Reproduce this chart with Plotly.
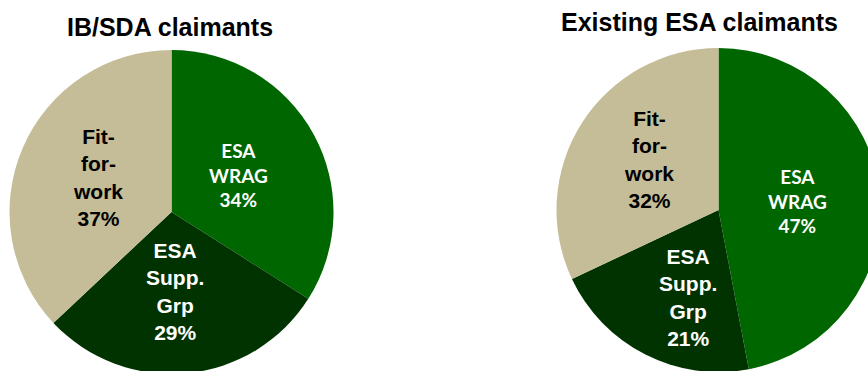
import math
import plotly.graph_objects as go

# ---- data ----
categories = ["ESA<br>WRAG", "ESA<br>Supp.<br>Grp", "Fit-<br>for-<br>work"]
ib_sda_values = [34, 29, 37]
existing_esa_values = [47, 21, 32]
chart_titles = ["IB/SDA claimants", "Existing ESA claimants"]

# ---- styles ----
slice_colors = ["#006600", "#003300", "#C4BD97"]
text_colors = ["white", "white", "black"]
text_families = ["Lato", "Liberation Sans", "Liberation Sans"]
text_sizes = [19, 21, 21]

W, H = 884, 380
# pie geometry in pixels: centre x, centre y, radius
pie_geom = [(171.5, 212, 162), (718.5, 210, 162)]
# label placement: fraction of radius and angle tweak (degrees) per slice
label_r = [[0.47, 0.49, 0.50], [0.49, 0.57, 0.53]]
label_da = [[0, 3, 2], [-1, -8, 4]]
title_pos = [(170, 27), (699, 22)]


def pie(vals, geom):
    cx, cy, r = geom
    return go.Pie(
        labels=[c.replace("<br>", " ") for c in categories],
        values=vals,
        textinfo="none",
        marker=dict(colors=slice_colors, line=dict(width=0)),
        sort=False,
        direction="clockwise",
        rotation=0,
        showlegend=False,
        hoverinfo="label+value",
        domain=dict(x=[(cx - r) / W, (cx + r) / W], y=[1 - (cy + r) / H, 1 - (cy - r) / H]),
    )


fig = go.Figure()
for k, vals in enumerate([ib_sda_values, existing_esa_values]):
    geom = pie_geom[k]
    fig.add_trace(pie(vals, geom))
    cx, cy, r = geom
    total = sum(vals)
    cum = 0
    for i, v in enumerate(vals):
        mid = (cum + v / 2) / total * 360 + label_da[k][i]
        cum += v
        a = math.radians(mid)
        px = cx + label_r[k][i] * r * math.sin(a)
        py = cy - label_r[k][i] * r * math.cos(a)
        fig.add_annotation(
            text=f"<b>{categories[i]}<br>{v}%</b>",
            x=px / W, y=1 - py / H, xref="paper", yref="paper",
            xanchor="center", yanchor="middle", showarrow=False, align="center",
            font=dict(family=text_families[i], size=text_sizes[i], color=text_colors[i]),
        )

for t, (x, y) in zip(chart_titles, title_pos):
    fig.add_annotation(
        text=f"<b>{t}</b>", x=x / W, y=1 - y / H, xref="paper", yref="paper",
        xanchor="center", yanchor="middle", showarrow=False,
        font=dict(family="Liberation Sans", size=25, color="black"),
    )

fig.update_layout(
    width=W, height=H,
    margin=dict(l=0, r=0, t=0, b=0),
    paper_bgcolor="white", plot_bgcolor="white",
    font=dict(family="Liberation Sans"),
)

fig.write_html(
    "out.html",
    config={"displayModeBar": False},
    post_script="document.body.style.margin='0';document.body.style.overflow='hidden';"
                "document.documentElement.style.overflow='hidden';",
)
